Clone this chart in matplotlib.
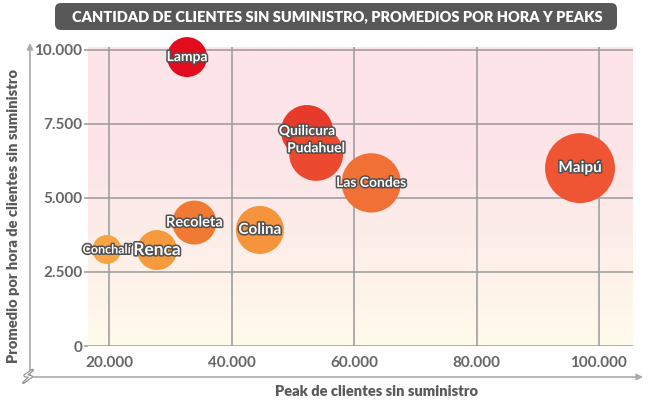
import numpy as np
import matplotlib
matplotlib.use('Agg')
import matplotlib.pyplot as plt
import matplotlib.patheffects as pe
from matplotlib.patches import FancyBboxPatch
from matplotlib.colors import LinearSegmentedColormap

# datos
comunas = ['Lampa', 'Quilicura', 'Pudahuel', 'Las Condes', 'Maipú',
           'Colina', 'Recoleta', 'Renca', 'Conchalí']
peak = [32700, 52300, 53800, 62800, 96900, 44600, 33900, 27800, 19600]
promedio = [9760, 7260, 6490, 5510, 6010, 3920, 4170, 3240, 3260]
tamano = [400, 680, 730, 880, 1225, 576, 484, 400, 210]   # area relativa de la burbuja

xticks = [20000, 40000, 60000, 80000, 100000]
yticks = [0, 2500, 5000, 7500, 10000]

titulo = 'CANTIDAD DE CLIENTES SIN SUMINISTRO, PROMEDIOS POR HORA Y PEAKS'
xlabel = 'Peak de clientes sin suministro'
ylabel = 'Promedio por hora de clientes sin suministro'

colores = ['#e30b1e', '#e83a2a', '#eb4a2f', '#f07036', '#ef5533',
           '#f5943c', '#f07a33', '#f59b3d', '#f6a444']
tam_letra = [10, 10, 10, 10, 11, 11, 10.5, 12.5, 9]

plt.rcParams['font.family'] = ['Lato', 'DejaVu Sans']
gris = '#5a5a5a'
W, H = 667, 408

fig = plt.figure(figsize=(W / 100, H / 100), dpi=100)
ax = fig.add_axes([88 / W, 62 / H, 545 / W, 299 / H])

# fondo degradado
fondo = LinearSegmentedColormap.from_list('fondo', ['#fffbeb', '#fdeee9', '#fce4e8', '#fce4e8'])
ax.imshow(np.linspace(0, 1, 256).reshape(-1, 1), extent=[0, 1, 0, 1],
          transform=ax.transAxes, aspect='auto', cmap=fondo, origin='lower', zorder=0)

ax.set_axisbelow(True)
ax.grid(color='#a0a0a0', lw=1.2)

s = np.array(tamano) * 2.07
ax.scatter(peak, promedio, s=s, c=colores, linewidths=0, zorder=3, clip_on=False)

for i, nombre in enumerate(comunas):
    dy = 4 if nombre == 'Pudahuel' else 0
    ax.annotate(nombre, (peak[i], promedio[i]), xytext=(0, dy), textcoords='offset points',
                ha='center', va='center', color='white', fontsize=tam_letra[i],
                fontweight='bold', zorder=5,
                path_effects=[pe.withStroke(linewidth=2.2, foreground='#505050')])

ax.set_xlim(16520, 105560)
ax.set_ylim(0, 10100)
ax.set_xticks(xticks)
ax.set_yticks(yticks)
ax.set_xticklabels([f'{v:,}'.replace(',', '.') for v in xticks])
ax.set_yticklabels([f'{v:,}'.replace(',', '.') for v in yticks])
ax.tick_params(axis='y', length=3, width=1.2, color='#a0a0a0', pad=1,
               labelsize=11, labelcolor='#666666')
ax.tick_params(axis='x', length=0, pad=7, labelsize=11, labelcolor='#666666')
for lab in ax.get_xticklabels() + ax.get_yticklabels():
    lab.set_fontweight('bold')
for sp in ax.spines.values():
    sp.set_visible(False)

# ejes exteriores con flecha
flecha = dict(arrowstyle='-|>', color='#aaaaaa', lw=1.2, mutation_scale=9, shrinkA=0, shrinkB=0)
ax.annotate('', xy=(30, H - 43), xytext=(30, H - 376), xycoords='figure pixels',
            textcoords='figure pixels', arrowprops=flecha)
ax.annotate('', xy=(643, H - 377), xytext=(30, H - 377), xycoords='figure pixels',
            textcoords='figure pixels', arrowprops=flecha)
fig.text(28 / W, (H - 378) / H, '⚡', family='DejaVu Sans', fontsize=13, color='white',
         ha='center', va='center',
         path_effects=[pe.withStroke(linewidth=1.6, foreground='#8c8c8c')])

# titulo en barra gris
barra = FancyBboxPatch((55 / W, (H - 30) / H), 562 / W, 27 / H,
                       boxstyle='round,pad=0,rounding_size=0.009', transform=fig.transFigure,
                       facecolor='#585858', edgecolor='none', mutation_aspect=W / H)
fig.patches.append(barra)
fig.text(337 / W, (H - 16.5) / H, titulo, ha='center', va='center', color='white',
         fontsize=10.5, fontweight='heavy')

fig.text(14 / W, (H - 216) / H, ylabel, rotation=90, ha='center', va='center',
         color=gris, fontsize=10.5, fontweight='heavy')
fig.text(377 / W, (H - 392) / H, xlabel, ha='center', va='center',
         color=gris, fontsize=10.5, fontweight='heavy')

fig.savefig('out.png', dpi=100)
